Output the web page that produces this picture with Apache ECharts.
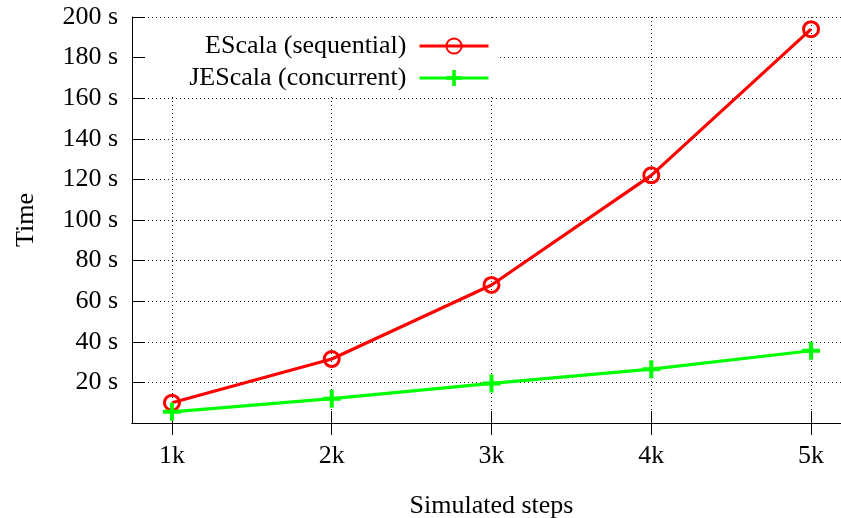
<!DOCTYPE html>
<html>
<head>
<meta charset="utf-8">
<script src="https://cdn.jsdelivr.net/npm/echarts@6/dist/echarts.min.js"></script>
<style>
  html, body { margin: 0; padding: 0; background: #fff; }
  #chart { width: 841px; height: 518px; }
</style>
</head>
<body>
<div id="chart"></div>
<script>
// Simulated steps (thousands) and run times in seconds
const steps = [1, 2, 3, 4, 5];
const stepLabels = ['1k', '2k', '3k', '4k', '5k'];
const escalaTimes = [10.0, 31.5, 68.0, 122.0, 194.0];
const jescalaTimes = [5.5, 12.0, 19.5, 26.5, 35.6];
const seriesNames = ['EScala (sequential)', 'JEScala (concurrent)'];

const FONT = '"Liberation Serif", "DejaVu Serif", serif';
const FS = 26;
const plusPath = 'path://M7,0 H11 V7 H18 V11 H11 V18 H7 V11 H0 V7 H7 Z';

function pairs(xs, ys) {
  return xs.map((x, i) => [x, ys[i]]);
}

const gridLine = { show: true, lineStyle: { color: '#222', width: 1, type: [1, 3] } };
const axisLineStyle = { show: true, lineStyle: { color: '#000', width: 1 } };

const chart = echarts.init(document.getElementById('chart'), null, { renderer: 'canvas' });

chart.setOption({
  animation: false,
  backgroundColor: '#fff',
  // the plot frame runs a little past the right edge of the canvas
  grid: { left: 132, top: 17, width: 719, bottom: 95, containLabel: false, outerBoundsMode: 'none' },
  xAxis: [
    {
      type: 'value', position: 'bottom', min: 0.75, max: 5.25, z: 0,
      name: 'Simulated steps', nameLocation: 'middle', nameGap: 70,
      nameTextStyle: { fontFamily: FONT, fontSize: FS, color: '#000' },
      axisLine: axisLineStyle,
      axisTick: { show: true, inside: true, length: 12, customValues: steps, lineStyle: { color: '#000' } },
      axisLabel: {
        show: true, customValues: steps, margin: 20,
        fontFamily: FONT, fontSize: FS, color: '#000',
        formatter: v => stepLabels[steps.indexOf(v)]
      },
      splitLine: gridLine
    },
    {
      type: 'value', position: 'top', min: 0.75, max: 5.25, z: 2,
      axisLine: axisLineStyle,
      axisTick: { show: true, inside: true, length: 12, customValues: steps, lineStyle: { color: '#000' } },
      axisLabel: { show: false },
      splitLine: { show: false }
    }
  ],
  yAxis: [
    {
      type: 'value', min: 0, max: 200, interval: 20, z: 0,
      axisLine: { show: false }, axisTick: { show: false }, axisLabel: { show: false },
      splitLine: gridLine
    },
    {
      type: 'value', min: 0, max: 200, interval: 20, z: 2, position: 'left',
      name: 'Time', nameLocation: 'middle', nameGap: 93,
      nameTextStyle: { fontFamily: FONT, fontSize: FS, color: '#000' },
      axisLine: axisLineStyle,
      axisTick: { show: true, inside: true, length: 13, lineStyle: { color: '#000' } },
      axisLabel: {
        margin: 14, fontFamily: FONT, fontSize: FS, color: '#000',
        formatter: v => (v === 0 ? '' : v + ' s')
      },
      splitLine: { show: false }
    }
  ],
  graphic: {
    elements: [
      // opaque key box behind the legend entries
      { type: 'rect', z: 1, shape: { x: 133, y: 18, width: 365, height: 76 }, style: { fill: '#fff' } }
    ]
  },
  legend: [
    {
      data: [seriesNames[0]], right: 351, top: 33, padding: 0, align: 'right',
      itemWidth: 69, itemHeight: 19, z: 4,
      lineStyle: { width: 3 },
      textStyle: { fontFamily: FONT, fontSize: FS, color: '#000', padding: [0, 8, 0, 0] }
    },
    {
      data: [seriesNames[1]], right: 351, top: 65, padding: 0, align: 'right',
      itemWidth: 69, itemHeight: 20, z: 4,
      lineStyle: { width: 3 },
      textStyle: { fontFamily: FONT, fontSize: FS, color: '#000', padding: [0, 8, 0, 0] }
    }
  ],
  series: [
    {
      name: seriesNames[0], type: 'line', xAxisIndex: 0, yAxisIndex: 0, z: 3,
      data: pairs(steps, escalaTimes),
      symbol: 'circle', symbolSize: 15,
      lineStyle: { color: '#ff0000', width: 3.2 },
      itemStyle: { color: 'rgba(255,255,255,0)', borderColor: '#ff0000', borderWidth: 3 }
    },
    {
      name: seriesNames[1], type: 'line', xAxisIndex: 0, yAxisIndex: 0, z: 3,
      data: pairs(steps, jescalaTimes),
      symbol: plusPath, symbolSize: 18,
      lineStyle: { color: '#00ff00', width: 3.2 },
      itemStyle: { color: '#00ff00' }
    }
  ]
});
</script>
</body>
</html>
